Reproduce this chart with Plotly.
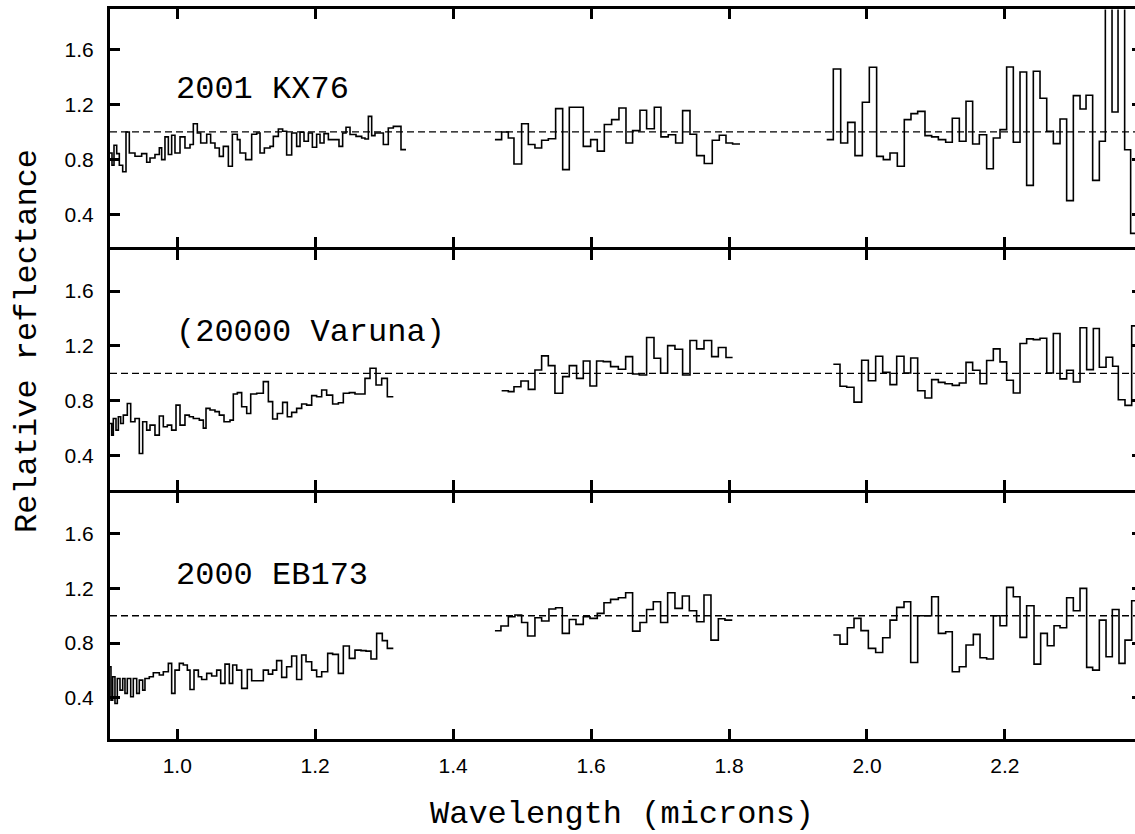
import plotly.graph_objects as go

# ---------------- data (wavelength in microns, relative reflectance) ----------------
kx76_j_wl = [0.9025, 0.9054, 0.9083, 0.9122, 0.9160, 0.9209, 0.9257, 0.9305, 0.9387, 0.9484,
             0.9557, 0.9605, 0.9677, 0.9740, 0.9774, 0.9822, 0.9871, 0.9919, 0.9967, 1.0040,
             1.0112, 1.0185, 1.0233, 1.0291, 1.0340, 1.0427, 1.0484, 1.0547, 1.0610, 1.0668,
             1.0741, 1.0799, 1.0871, 1.0910, 1.0992, 1.1079, 1.1152, 1.1200, 1.1263, 1.1345,
             1.1393, 1.1466, 1.1528, 1.1586, 1.1659, 1.1731, 1.1780, 1.1838, 1.1901, 1.1959,
             1.2021, 1.2070, 1.2128, 1.2191, 1.2345, 1.2398, 1.2447, 1.2505, 1.2592, 1.2674,
             1.2722, 1.2771, 1.2819, 1.2867, 1.2988, 1.3060, 1.3133, 1.3244, 1.3317]
kx76_j_rf = [0.847, 0.757, 0.903, 0.842, 0.757, 0.710, 1.000, 0.847, 0.823, 0.842,
             0.779, 0.810, 0.835, 0.884, 0.798, 0.964, 0.835, 0.976, 0.847, 0.964,
             0.883, 0.908, 1.060, 0.993, 0.920, 0.983, 0.920, 0.883, 0.822, 0.895,
             0.750, 0.983, 0.944, 0.847, 0.798, 0.983, 0.993, 0.847, 0.883, 0.895,
             0.968, 1.022, 1.005, 0.832, 0.993, 0.895, 0.998, 0.932, 0.993, 0.888,
             0.983, 0.920, 0.988, 0.944, 0.895, 0.993, 1.034, 0.981, 0.968, 0.956,
             0.949, 1.114, 0.973, 0.993, 0.908, 1.029, 1.041, 0.871, 0.871]
kx76_h_wl = [1.4606, 1.4703, 1.4800, 1.4882, 1.4993, 1.5090, 1.5186, 1.5283, 1.5380, 1.5486,
             1.5588, 1.5684, 1.5887, 1.5994, 1.6090, 1.6192, 1.6298, 1.6404, 1.6506, 1.6602,
             1.6709, 1.6805, 1.6917, 1.7013, 1.7119, 1.7226, 1.7327, 1.7434, 1.7530, 1.7641,
             1.7757, 1.7859, 1.7956, 1.8052, 1.8159]
kx76_h_rf = [0.944, 1.000, 0.956, 0.766, 1.060, 0.908, 0.883, 0.940, 0.950, 1.170,
             0.725, 1.180, 0.895, 0.944, 0.860, 1.054, 1.090, 1.175, 0.920, 1.010,
             1.158, 1.024, 1.180, 0.964, 0.980, 0.920, 1.156, 0.983, 0.827, 0.770,
             0.940, 0.976, 0.920, 0.912, 0.912]
kx76_k_wl = [1.9416, 1.9512, 1.9619, 1.9720, 1.9826, 1.9933, 2.0034, 2.0140, 2.0237, 2.0334,
             2.0440, 2.0541, 2.0638, 2.0735, 2.0841, 2.0938, 2.1035, 2.1141, 2.1237, 2.1339,
             2.1436, 2.1532, 2.1629, 2.1735, 2.1832, 2.1929, 2.2025, 2.2122, 2.2219, 2.2315,
             2.2412, 2.2509, 2.2606, 2.2702, 2.2799, 2.2895, 2.2992, 2.3089, 2.3176, 2.3272,
             2.3369, 2.3456, 2.3553, 2.3640, 2.3736, 2.3823, 2.3950]
kx76_k_rf = [0.944, 1.460, 0.920, 1.070, 0.827, 1.217, 1.472, 0.822, 0.798, 0.847,
             0.750, 1.090, 1.134, 1.150, 0.973, 0.964, 0.944, 0.925, 1.100, 0.932,
             1.224, 0.912, 0.980, 0.732, 0.956, 1.017, 1.474, 0.925, 1.438, 0.610,
             1.443, 1.246, 1.005, 0.915, 1.095, 0.499, 1.265, 1.168, 1.268, 0.647,
             0.932, 2.200, 1.146, 2.200, 0.870, 0.260, 0.260]

varuna_j_wl = [0.9025, 0.9049, 0.9073, 0.9112, 0.9146, 0.9180, 0.9218, 0.9276, 0.9325, 0.9387,
               0.9450, 0.9499, 0.9557, 0.9605, 0.9677, 0.9740, 0.9798, 0.9856, 0.9919, 0.9982,
               1.0040, 1.0112, 1.0175, 1.0233, 1.0320, 1.0378, 1.0417, 1.0475, 1.0547, 1.0610,
               1.0678, 1.0765, 1.0813, 1.0871, 1.0934, 1.1007, 1.1065, 1.1152, 1.1248, 1.1321,
               1.1383, 1.1451, 1.1528, 1.1596, 1.1659, 1.1731, 1.1804, 1.1876, 1.1949, 1.2021,
               1.2094, 1.2166, 1.2253, 1.2336, 1.2408, 1.2495, 1.2577, 1.2722, 1.2795, 1.2882,
               1.2964, 1.3046, 1.3133]
varuna_j_rf = [0.634, 0.549, 0.670, 0.585, 0.683, 0.634, 0.695, 0.780, 0.646, 0.670,
               0.415, 0.646, 0.585, 0.622, 0.549, 0.688, 0.610, 0.622, 0.585, 0.768,
               0.622, 0.695, 0.683, 0.670, 0.658, 0.600, 0.744, 0.732, 0.720, 0.695,
               0.646, 0.658, 0.849, 0.859, 0.756, 0.707, 0.849, 0.854, 0.939, 0.793,
               0.666, 0.707, 0.788, 0.683, 0.715, 0.744, 0.776, 0.768, 0.837, 0.829,
               0.878, 0.841, 0.776, 0.785, 0.854, 0.859, 0.849, 0.963, 1.037, 0.915,
               0.963, 0.829, 0.829]
varuna_h_wl = [1.4703, 1.4800, 1.4882, 1.4983, 1.5090, 1.5186, 1.5283, 1.5380, 1.5476, 1.5588,
               1.5684, 1.5790, 1.5887, 1.5984, 1.6080, 1.6177, 1.6283, 1.6395, 1.6501, 1.6602,
               1.6699, 1.6805, 1.6912, 1.7008, 1.7110, 1.7216, 1.7327, 1.7434, 1.7530, 1.7637,
               1.7748, 1.7845, 1.7956, 1.8052]
varuna_h_rf = [0.873, 0.866, 0.902, 0.944, 0.883, 1.024, 1.127, 1.056, 0.854, 0.976,
               1.056, 0.963, 1.090, 0.907, 1.090, 1.085, 1.049, 1.029, 1.122, 0.995,
               0.988, 1.261, 1.110, 1.000, 1.202, 1.176, 0.988, 1.239, 1.178, 1.239,
               1.122, 1.188, 1.115, 1.115]
varuna_k_wl = [1.9512, 1.9609, 1.9706, 1.9812, 1.9923, 2.0020, 2.0126, 2.0228, 2.0334, 2.0431,
               2.0537, 2.0634, 2.0735, 2.0841, 2.0938, 2.1035, 2.1131, 2.1237, 2.1339, 2.1436,
               2.1532, 2.1639, 2.1735, 2.1832, 2.1929, 2.2025, 2.2122, 2.2219, 2.2315, 2.2412,
               2.2509, 2.2606, 2.2702, 2.2799, 2.2895, 2.2992, 2.3089, 2.3185, 2.3282, 2.3369,
               2.3466, 2.3562, 2.3644, 2.3741, 2.3838, 2.3950]
varuna_k_rf = [1.066, 0.905, 0.898, 0.790, 1.095, 0.946, 1.124, 1.007, 0.917, 1.124,
               1.002, 1.112, 0.873, 0.820, 0.954, 0.934, 0.924, 0.912, 0.929, 1.080,
               1.022, 0.924, 1.093, 1.178, 1.083, 0.949, 0.856, 1.217, 1.251, 1.246,
               1.256, 1.002, 1.290, 0.959, 1.022, 0.937, 1.332, 1.027, 1.327, 1.044,
               1.117, 1.051, 0.807, 0.766, 1.346, 1.346]

eb173_j_wl = [0.9025, 0.9039, 0.9064, 0.9097, 0.9131, 0.9170, 0.9209, 0.9242, 0.9276, 0.9325,
              0.9363, 0.9412, 0.9450, 0.9499, 0.9532, 0.9595, 0.9653, 0.9740, 0.9798, 0.9871,
              0.9919, 0.9967, 1.0030, 1.0088, 1.0146, 1.0185, 1.0243, 1.0306, 1.0354, 1.0427,
              1.0499, 1.0572, 1.0630, 1.0692, 1.0755, 1.0804, 1.0862, 1.0934, 1.1016, 1.1079,
              1.1248, 1.1321, 1.1383, 1.1441, 1.1514, 1.1586, 1.1659, 1.1731, 1.1804, 1.1867,
              1.1949, 1.2021, 1.2094, 1.2181, 1.2253, 1.2336, 1.2408, 1.2495, 1.2577, 1.2664,
              1.2737, 1.2809, 1.2891, 1.2973, 1.3046, 1.3133]
eb173_j_rf = [0.628, 0.384, 0.555, 0.360, 0.542, 0.457, 0.542, 0.433, 0.542, 0.409,
              0.542, 0.433, 0.530, 0.457, 0.542, 0.555, 0.584, 0.567, 0.591, 0.652,
              0.433, 0.603, 0.652, 0.640, 0.603, 0.462, 0.603, 0.555, 0.535, 0.579,
              0.560, 0.603, 0.506, 0.647, 0.506, 0.640, 0.603, 0.470, 0.608, 0.526,
              0.603, 0.574, 0.603, 0.672, 0.550, 0.628, 0.706, 0.535, 0.713, 0.664,
              0.603, 0.555, 0.591, 0.725, 0.718, 0.579, 0.779, 0.689, 0.749, 0.745,
              0.742, 0.684, 0.871, 0.818, 0.762, 0.762]
eb173_h_wl = [1.4606, 1.4693, 1.4800, 1.4896, 1.4993, 1.5080, 1.5186, 1.5283, 1.5389, 1.5486,
              1.5583, 1.5684, 1.5781, 1.5887, 1.5984, 1.6090, 1.6187, 1.6283, 1.6395, 1.6501,
              1.6602, 1.6709, 1.6805, 1.6902, 1.7008, 1.7110, 1.7216, 1.7323, 1.7424, 1.7530,
              1.7637, 1.7738, 1.7845, 1.7941, 1.8047]
eb173_h_rf = [0.890, 0.925, 0.993, 1.005, 0.951, 0.852, 0.985, 0.961, 1.049, 1.058,
              0.871, 0.973, 0.937, 0.993, 0.981, 1.017, 1.095, 1.119, 1.131, 1.168,
              0.888, 0.951, 1.046, 1.102, 0.951, 1.168, 1.054, 1.144, 1.036, 0.956,
              1.151, 0.822, 0.978, 0.968, 0.968]
eb173_k_wl = [1.9512, 1.9609, 1.9715, 1.9812, 1.9913, 2.0020, 2.0126, 2.0228, 2.0334, 2.0431,
              2.0537, 2.0634, 2.0735, 2.0938, 2.1035, 2.1141, 2.1237, 2.1339, 2.1436, 2.1542,
              2.1639, 2.1735, 2.1832, 2.1929, 2.2025, 2.2122, 2.2219, 2.2315, 2.2422, 2.2518,
              2.2615, 2.2712, 2.2799, 2.2895, 2.2992, 2.3089, 2.3185, 2.3272, 2.3369, 2.3466,
              2.3557, 2.3654, 2.3741, 2.3838, 2.3950]
eb173_k_rf = [0.859, 0.793, 0.912, 0.981, 0.891, 0.762, 0.732, 0.839, 0.968, 1.061,
              1.102, 0.659, 1.000, 1.139, 0.871, 0.883, 0.591, 0.628, 0.786, 0.864,
              0.693, 0.684, 1.000, 0.927, 1.207, 1.139, 0.842, 1.073, 0.647, 0.871,
              0.781, 0.927, 0.912, 1.131, 1.036, 1.200, 0.623, 0.603, 0.968, 0.701,
              1.046, 0.652, 0.822, 1.109, 1.109]

object_names = ["2001 KX76", "(20000 Varuna)", "2000 EB173"]
tick_x = [1.0, 1.2, 1.4, 1.6, 1.8, 2.0, 2.2, 2.4]
tick_x_text = ["1.0", "1.2", "1.4", "1.6", "1.8", "2.0", "2.2", "2.4"]
tick_y = [0.4, 0.8, 1.2, 1.6]
tick_y_text = ["0.4", "0.8", "1.2", "1.6"]
unity_level = 1.0
x_limits = [0.9025, 2.3886]

panels = [
    dict(name=object_names[0], segs=[(kx76_j_wl, kx76_j_rf), (kx76_h_wl, kx76_h_rf), (kx76_k_wl, kx76_k_rf)],
         yrange=[0.157, 1.894], domain=[0.6728, 0.9953], label_y=1.31),
    dict(name=object_names[1], segs=[(varuna_j_wl, varuna_j_rf), (varuna_h_wl, varuna_h_rf), (varuna_k_wl, varuna_k_rf)],
         yrange=[0.147, 1.896], domain=[0.3439, 0.6687], label_y=1.295),
    dict(name=object_names[2], segs=[(eb173_j_wl, eb173_j_rf), (eb173_h_wl, eb173_h_rf), (eb173_k_wl, eb173_k_rf)],
         yrange=[0.104, 1.894], domain=[0.00745, 0.3398], label_y=1.29),
]

MONO = "Liberation Mono, Courier New, monospace"
SANS = "Liberation Sans, Arial, sans-serif"

fig = go.Figure()
layout = dict(
    width=1135, height=834,
    margin=dict(l=110, r=0, t=6, b=90),
    paper_bgcolor="white", plot_bgcolor="white",
    showlegend=False,
    annotations=[],
)

for i, p in enumerate(panels):
    n = i + 1
    xa = "x" if n == 1 else f"x{n}"
    ya = "y" if n == 1 else f"y{n}"
    ra = f"y{n + 3}"
    for wl, rf in p["segs"]:
        fig.add_trace(go.Scatter(x=wl, y=rf, mode="lines", line=dict(color="black", width=1.6, shape="hv"),
                                 xaxis=xa, yaxis=ya, hoverinfo="skip"))
    # dashed unity line (drawn on the right-hand overlay axis)
    fig.add_trace(go.Scatter(x=[x_limits[0], x_limits[1]], y=[unity_level, unity_level], mode="lines",
                             line=dict(color="black", width=1.3, dash="7px,4px"),
                             xaxis=xa, yaxis=ra, hoverinfo="skip"))
    last = (i == len(panels) - 1)
    layout["xaxis" if n == 1 else f"xaxis{n}"] = dict(
        domain=[0, 1], anchor=ya, range=x_limits, showgrid=False, zeroline=False,
        showline=True, linecolor="black", linewidth=3, mirror="ticks",
        ticks="inside", ticklen=10, tickwidth=2.5, tickcolor="black",
        tickvals=tick_x, ticktext=tick_x_text, showticklabels=last,
        tickfont=dict(family=SANS, size=21, color="black"), ticklabelstandoff=6,
    )
    layout["yaxis" if n == 1 else f"yaxis{n}"] = dict(
        domain=p["domain"], anchor=xa, range=p["yrange"], showgrid=False, zeroline=False,
        showline=True, linecolor="black", linewidth=3,
        ticks="inside", ticklen=10, tickwidth=2.5, tickcolor="black",
        tickvals=tick_y, ticktext=tick_y_text,
        tickfont=dict(family=SANS, size=21, color="black"), ticklabelstandoff=9,
    )
    layout[f"yaxis{n + 3}"] = dict(
        overlaying=ya, anchor=xa, side="right", range=p["yrange"], showgrid=False, zeroline=False,
        showline=False, ticks="inside", ticklen=3, tickwidth=2.5, tickcolor="black",
        tickvals=tick_y, showticklabels=False,
    )
    layout["annotations"].append(dict(
        text=p["name"], x=0.996, y=p["label_y"], xref=xa, yref=ya, xanchor="left", yanchor="middle",
        showarrow=False, font=dict(family=MONO, size=32, color="black"),
    ))

layout["annotations"].append(dict(
    text="Wavelength (microns)", x=0.4995, y=-0.0955, xref="paper", yref="paper",
    xanchor="center", yanchor="middle", showarrow=False,
    font=dict(family=MONO, size=32, color="black"),
))
layout["annotations"].append(dict(
    text="Relative reflectance", x=-0.081, y=0.546, xref="paper", yref="paper",
    xanchor="center", yanchor="middle", textangle=-90, showarrow=False,
    font=dict(family=MONO, size=32, color="black"),
))

fig.update_layout(**layout)
fig.write_html("out.html", config={"displayModeBar": False},
               post_script="document.body.style.margin='0';document.body.style.overflow='hidden';")
